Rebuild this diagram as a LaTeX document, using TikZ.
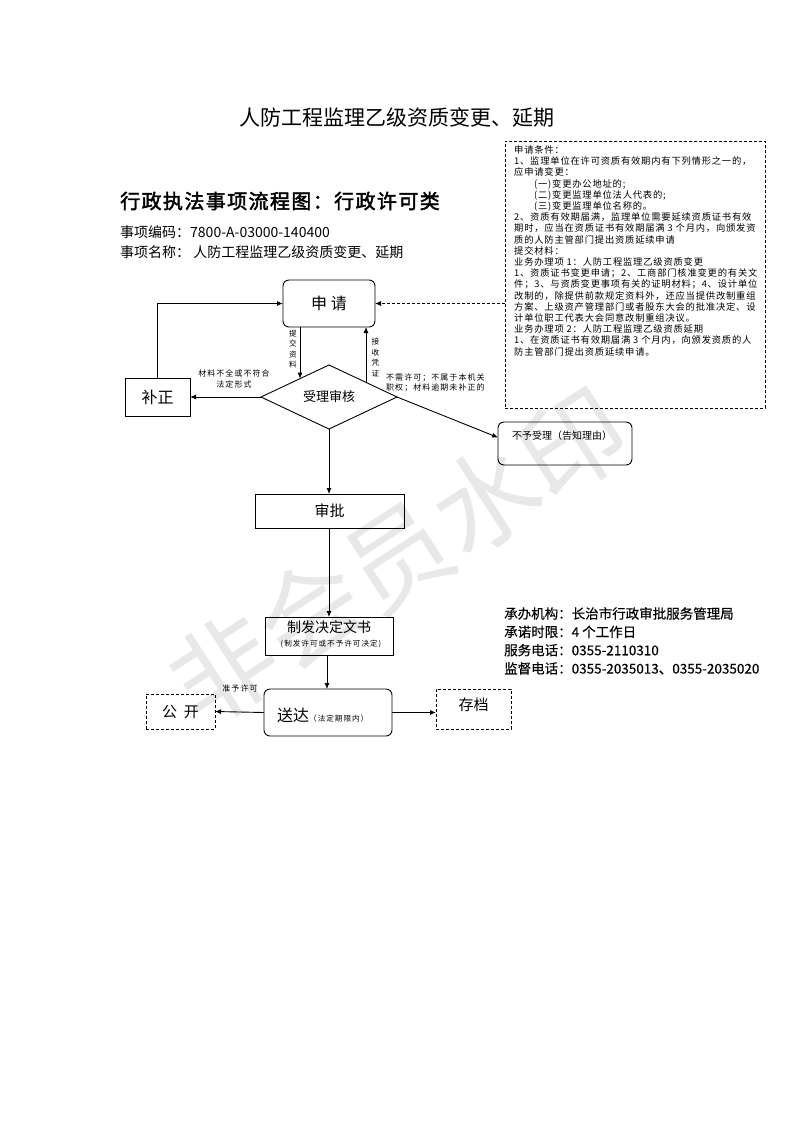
\documentclass[tikz,border=0pt]{standalone}
\usepackage{fontspec}
\setmainfont{Noto Sans CJK SC}
\newfontfamily\spA[LetterSpace=8.5]{Noto Sans CJK SC}
\newfontfamily\spB[LetterSpace=13]{Noto Sans CJK SC}
\newfontfamily\spH[LetterSpace=7,FakeBold=2.2]{Noto Sans CJK SC}
\newfontfamily\semib[FakeBold=0.3]{Noto Sans CJK SC}
\usetikzlibrary{arrows.meta,shapes.geometric,calc}
\newcommand{\fs}[2]{\fontsize{#1}{#2}\selectfont}
\begin{document}
\begin{tikzpicture}[x=1pt,y=-1pt,
  >={Latex[length=6pt,width=5pt]},
  box/.style={draw, line width=0.9pt, inner sep=0pt, outer sep=0pt, align=center},
  rbox/.style={box, rounded corners=6pt},
  dbox/.style={box, dashed, dash pattern=on 3pt off 2pt},
  lbl/.style={font=\spB\fs{8}{10.5}, inner sep=0pt, align=center},
  conn/.style={->, line width=0.9pt},
  txt/.style={inner sep=0pt, anchor=west, align=left}]
\useasboundingbox (0,0) rectangle (793,1122);
\fill[white] (0,0) rectangle (793,1122);

% watermark
\node[text=black!9, rotate=33, inner sep=0pt, font=\fs{104}{104}] (wm) at (398,556) {非会员水印};

% headers
\node[inner sep=0pt, font=\fs{21}{24}] (title) at (397,117) {人防工程监理乙级资质变更、延期};
\node[txt, font=\spH\fs{20}{24}] (head) at (120,201) {行政执法事项流程图：行政许可类};
\node[txt, font=\fs{14}{16}] (code) at (120,232) {事项编码：7800-A-03000-140400};
\node[txt, font=\fs{14}{16}] (name) at (120,252) {事项名称：\ 人防工程监理乙级资质变更、延期};

% dashed info box
\node[dbox, minimum width=260pt, minimum height=267pt] (db) at (635,274.5) {};
\node[inner sep=0pt, anchor=north west, align=left, font=\spA\fs{9.3}{11.2}] (dbt) at (514,145.5) {%
申请条件：\\
1、监理单位在许可资质有效期内有下列情形之一的，\\
应申请变更：\\
\hspace*{20pt}(一)变更办公地址的;\\
\hspace*{20pt}(二)变更监理单位法人代表的;\\
\hspace*{20pt}(三)变更监理单位名称的。\\
2、资质有效期届满，监理单位需要延续资质证书有效\\
期时，应当在资质证书有效期届满 3 个月内，向颁发资\\
质的人防主管部门提出资质延续申请\\
提交材料：\\
业务办理项 1：人防工程监理乙级资质变更\\
1、资质证书变更申请；2、工商部门核准变更的有关文\\
件；3、与资质变更事项有关的证明材料；4、设计单位\\
改制的，除提供前款规定资料外，还应当提供改制重组\\
方案、上级资产管理部门或者股东大会的批准决定、设\\
计单位职工代表大会同意改制重组决议。\\
业务办理项 2：人防工程监理乙级资质延期\\
1、在资质证书有效期届满 3 个月内，向颁发资质的人\\
防主管部门提出资质延续申请。};

% flow nodes
\node[rbox, minimum width=92pt, minimum height=47pt, font=\fs{16}{18}] (sq) at (329,303.5) {申\ 请};
\node[diamond, draw, line width=0.9pt, inner sep=0pt, outer sep=0pt, minimum width=136pt, minimum height=54pt, font=\fs{13}{15}] (d) at (329,397) {受理审核};
\node[box, minimum width=65pt, minimum height=38pt, font=\fs{16}{18}] (bz) at (157.5,397) {补正};
\node[rbox, minimum width=134pt, minimum height=43pt] (ny) at (565,443.5) {};
\node[inner sep=0pt, font=\fs{10}{12}] (nyt) at (562,436) {不予受理（告知理由）};
\node[box, minimum width=149pt, minimum height=34pt, font=\fs{15}{17}] (sp) at (329.5,511) {审批};
\node[box, minimum width=128pt, minimum height=38pt] (zf) at (329,636) {};
\node[inner sep=0pt, font=\fs{14}{16}] (zft) at (329,627) {制发决定文书};
\node[inner sep=0pt, font=\spB\fs{7.6}{9}] (zfs) at (331,644) {(制发许可或不予许可决定)};
\node[rbox, minimum width=128pt, minimum height=47pt] (sd) at (328,712.5) {};
\node[inner sep=0pt, anchor=west] (sdt) at (277,715) {{\fs{16}{18}送达}{\spB\fs{7.6}{10}（法定期限内）}};
\node[dbox, minimum width=69pt, minimum height=35pt, font=\fs{15}{17}] (gk) at (180.5,711.5) {公\ \ 开};
\node[dbox, minimum width=75pt, minimum height=40pt] (cd) at (473.5,709) {};
\node[inner sep=0pt, font=\fs{15}{17}] (cdt) at (473.5,705) {存档};

% points on diamond border
\coordinate (dl) at ($(d.north)!0.426!(d.west)$);
\coordinate (dr) at ($(d.north)!0.544!(d.east)$);
\coordinate (nyin) at ($(ny.west)+(0,-6)$);

% connectors
\draw[conn] (sq.south -| dl) -- (dl);
\draw[conn] (dr) -- (sq.south -| dr);
\draw[conn] (d.west) -- (bz.east);
\draw[conn] (bz.north) |- (sq.west);
\draw[conn, dashed, dash pattern=on 3pt off 2pt] (db.west |- sq.east) -- (sq.east);
\draw[conn] (d.east) -- (nyin);
\draw[conn] (d.south) -- (sp.north -| d.south);
\draw[conn] (sp.south -| zf.north) -- (zf.north);
\draw[conn] ($(zf.south)+(-2,0)$) -- ($(sd.north)+(-1,0)$);
\draw[conn] (sd.west) -- (gk.east);
\draw[conn] (sd.east) -- (cd.west |- sd.east);

% connector labels
\node[lbl, font=\fs{7.6}{10.5}] (l1) at (293,349) {提\\交\\资\\料};
\node[lbl, font=\fs{7.6}{10.5}] (l2) at (375.5,357.5) {接\\收\\凭\\证};
\node[lbl] (l3) at (234,379) {材料不全或不符合\\法定形式};
\node[lbl, anchor=west, align=left] (l4) at (386,383) {不需许可；不属于本机关\\职权；材料逾期未补正的};
\node[lbl] (l5) at (240,688) {准予许可};

% service info
\node[txt, anchor=north west, font=\semib\fs{13.5}{18.3}] (info) at (504,607) {%
承办机构：长治市行政审批服务管理局\\
承诺时限：4 个工作日\\
服务电话：0355-2110310\\
监督电话：0355-2035013、0355-2035020};
\end{tikzpicture}
\end{document}
